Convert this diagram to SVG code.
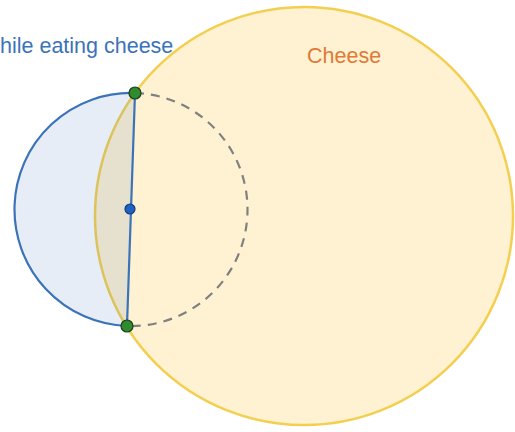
<svg xmlns="http://www.w3.org/2000/svg" width="515" height="432" viewBox="0 0 515 432">
<style>
.lbl{font-family:"Liberation Sans",Arial,sans-serif;font-size:21.5px}
.pt{stroke:#1d3b1d;stroke-width:1.2}
</style>
<rect width="515" height="432" fill="#ffffff"/>
<g id="cheese">
<circle cx="304" cy="216" r="209" fill="#fff2d2" stroke="#f4cf4f" stroke-width="2.5"/>
<text class="lbl" x="307" y="63" fill="#e07a35">Cheese</text>
</g>
<g id="smile">
<path d="M135,93 A116,116 0 0 0 127,326 Z" fill="#3b73b9" fill-opacity="0.13" stroke="#3b73b9" stroke-width="2.2" stroke-linejoin="round"/>
<text class="lbl" x="0" y="53" fill="#3b73b9">hile eating cheese</text>
</g>
<g id="connectors">
<path d="M135,93 A116,116 0 0 1 127,326" fill="none" stroke="#808080" stroke-width="2.2" stroke-dasharray="9,7"/>
</g>
<g id="points">
<circle id="p-top" class="pt" cx="135" cy="93" r="6" fill="#2e8b2e"/>
<circle id="p-bottom" class="pt" cx="127" cy="326" r="6" fill="#2e8b2e"/>
<circle id="p-center" cx="130" cy="209" r="5" fill="#1f62c4" stroke="#173d78" stroke-width="1.2"/>
</g>
</svg>
